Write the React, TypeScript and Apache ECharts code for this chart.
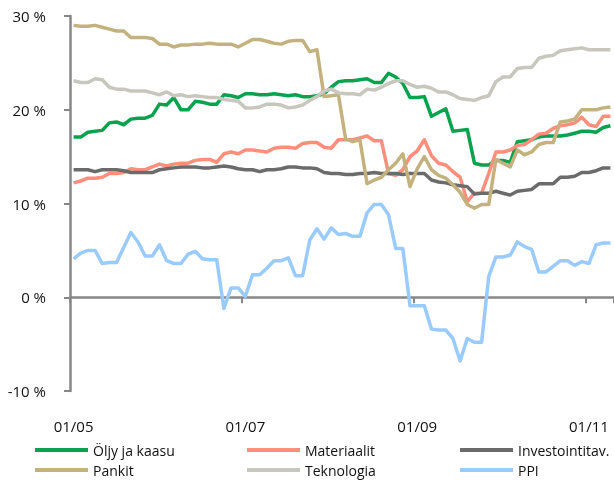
import React, { useEffect, useRef } from 'react';
import * as echarts from 'echarts';

// Monthly categories Jan 2005 .. Apr 2011 (label format MM/YY)
const MONTH_COUNT = 76;
const months: string[] = [];
for (let i = 0; i < MONTH_COUNT; i++) {
  const m = (i % 12) + 1;
  const y = 5 + Math.floor(i / 12);
  months.push(`${String(m).padStart(2, '0')}/${String(y).padStart(2, '0')}`);
}

const seriesNames = ['Öljy ja kaasu', 'Materiaalit', 'Investointitav.', 'Pankit', 'Teknologia', 'PPI'];
const seriesColors = ['#0AA24E', '#FF8E7A', '#6B6B6B', '#C4B27E', '#C8C7BD', '#99CBFF'];

const oljyJaKaasu = [
  17.1, 17.1, 17.6, 17.7, 17.8, 18.6, 18.7, 18.4, 19.0, 19.1, 19.1, 19.4, 20.6, 20.5, 21.3, 20.0, 20.0, 20.9, 20.8, 20.6,
  20.6, 21.6, 21.5, 21.3, 21.7, 21.7, 21.6, 21.6, 21.7, 21.6, 21.5, 21.6, 21.4, 21.4, 21.5,
  21.7, 22.4, 23.0, 23.1, 23.1, 23.2, 23.3, 22.9, 22.9, 23.9, 23.5, 22.8, 21.3, 21.3, 21.4, 19.3, 19.7, 20.1, 17.7, 17.8,
  17.9, 14.3, 14.1, 14.1, 14.6, 14.6, 14.4, 16.6, 16.7, 16.8, 17.1, 17.2, 17.2, 17.2, 17.3, 17.5, 17.7, 17.7, 17.6, 18.1,
  18.3,
];
const materiaalit = [
  12.2, 12.4, 12.7, 12.7, 12.8, 13.2, 13.2, 13.3, 13.7, 13.6, 13.6, 13.9, 14.2, 14.0, 14.2, 14.3, 14.3, 14.6, 14.7, 14.7,
  14.4, 15.3, 15.5, 15.3, 15.7, 15.7, 15.6, 15.5, 15.9, 16.0, 16.0, 15.9, 16.4, 16.5, 16.5,
  16.0, 15.9, 16.8, 16.8, 16.8, 17.0, 17.2, 16.7, 16.7, 13.2, 13.0, 13.6, 15.0, 15.6, 16.8, 15.1, 14.3, 14.1, 13.4, 12.8,
  10.2, 11.1, 11.1, 13.2, 15.5, 15.5, 15.7, 16.2, 16.3, 16.8, 17.4, 17.5, 18.0, 18.3, 18.4, 18.6, 19.2, 18.4, 18.2, 19.3,
  19.3,
];
const investointitav = [
  13.6, 13.6, 13.6, 13.4, 13.6, 13.6, 13.6, 13.5, 13.3, 13.3, 13.3, 13.3, 13.6, 13.7, 13.8, 13.9, 13.9, 13.9, 13.8, 13.8,
  13.9, 14.0, 13.9, 13.7, 13.6, 13.6, 13.4, 13.6, 13.6, 13.7, 13.9, 13.9, 13.8, 13.8, 13.7,
  13.3, 13.2, 13.2, 13.1, 13.1, 13.2, 13.2, 13.3, 13.2, 13.2, 13.2, 13.1, 13.2, 13.2, 13.2, 12.5, 12.3, 12.2, 12.0, 11.9,
  11.8, 11.0, 11.1, 11.1, 11.3, 11.1, 10.9, 11.3, 11.4, 11.5, 12.1, 12.1, 12.1, 12.8, 12.8, 12.9, 13.3, 13.3, 13.5, 13.8,
  13.8,
];
const pankit = [
  29.0, 28.9, 28.9, 29.0, 28.8, 28.6, 28.4, 28.4, 27.7, 27.7, 27.7, 27.6, 27.0, 27.0, 26.7, 26.9, 26.9, 27.0, 27.0, 27.1,
  27.0, 27.0, 27.0, 26.7, 27.1, 27.5, 27.5, 27.3, 27.1, 27.0, 27.3, 27.4, 27.4, 26.2, 26.4,
  21.4, 21.5, 21.6, 16.9, 16.6, 16.8, 12.1, 12.5, 12.8, 13.6, 14.3, 15.3, 11.8, 13.7, 15.0, 13.6, 13.0, 12.7, 12.0, 11.2,
  9.9, 9.5, 9.9, 9.9, 14.7, 14.3, 13.9, 15.7, 15.2, 15.5, 16.3, 16.5, 16.5, 18.7, 18.8, 19.0, 20.0, 20.0, 20.0, 20.2,
  20.3,
];
const teknologia = [
  23.1, 22.9, 22.9, 23.3, 23.2, 22.4, 22.2, 22.2, 22.0, 22.0, 22.0, 21.8, 21.6, 21.9, 21.5, 21.6, 21.4, 21.5, 21.4, 21.3,
  21.3, 21.1, 21.0, 20.9, 20.2, 20.2, 20.3, 20.6, 20.6, 20.5, 20.2, 20.3, 20.5, 21.0, 21.4,
  22.0, 22.2, 21.8, 21.7, 21.7, 21.6, 22.2, 22.1, 22.4, 22.8, 23.1, 23.1, 22.7, 22.4, 22.5, 22.3, 21.9, 21.9, 21.6, 21.2,
  21.1, 21.0, 21.3, 21.5, 23.0, 23.5, 23.5, 24.4, 24.5, 24.5, 25.5, 25.7, 25.8, 26.3, 26.4, 26.5, 26.6, 26.4, 26.4, 26.4,
  26.4,
];
const ppi = [
  4.1, 4.7, 5.0, 5.0, 3.6, 3.7, 3.7, 5.3, 6.9, 5.9, 4.4, 4.4, 5.6, 3.9, 3.6, 3.6, 4.6, 4.9, 4.1, 4.0,
  4.0, -1.2, 1.0, 1.0, 0.1, 2.4, 2.4, 3.1, 3.9, 3.9, 4.2, 2.3, 2.3, 6.1, 7.3,
  6.2, 7.4, 6.7, 6.8, 6.5, 6.5, 9.0, 9.9, 9.9, 8.8, 5.2, 5.2, -0.9, -0.9, -0.9, -3.4, -3.5, -3.5, -4.4, -6.8,
  -4.4, -4.8, -4.8, 2.2, 4.3, 4.3, 4.5, 5.9, 5.4, 5.1, 2.7, 2.7, 3.3, 3.9, 3.9, 3.4, 3.8, 3.6, 5.6, 5.8,
  5.8,
];
const seriesValues = [oljyJaKaasu, materiaalit, investointitav, pankit, teknologia, ppi];

const yMin = -10;
const yMax = 30;
const yStep = 10;

const FONT = 'Open Sans';
const AXIS_GRAY = '#878787';

export default function App() {
  const ref = useRef<HTMLDivElement>(null);

  useEffect(() => {
    if (!ref.current) return;
    const chart = echarts.init(ref.current, null, { renderer: 'svg' });

    const legendBase = {
      orient: 'vertical' as const,
      top: 442,
      padding: 0,
      itemWidth: 53,
      itemHeight: 4,
      itemGap: 4,
      icon: 'rect',
      textStyle: { fontFamily: FONT, fontSize: 14, color: '#111', lineHeight: 16 },
    };

    chart.setOption({
      animation: false,
      color: seriesColors,
      textStyle: { fontFamily: FONT },
      grid: { left: 70, top: 16, width: 547, bottom: 90, containLabel: false },
      legend: [
        { ...legendBase, left: 35, data: [seriesNames[0], seriesNames[3]] },
        { ...legendBase, left: 247, data: [seriesNames[1], seriesNames[4]] },
        { ...legendBase, left: 460, data: [seriesNames[2], seriesNames[5]] },
      ],
      xAxis: [
        {
          type: 'category',
          data: months,
          boundaryGap: true,
          position: 'bottom',
          axisLine: { show: true, onZero: true, lineStyle: { color: AXIS_GRAY, width: 2.5 } },
          axisTick: { show: true, interval: 23, length: 6, inside: false, lineStyle: { color: AXIS_GRAY, width: 2 } },
          axisLabel: { show: false },
          splitLine: { show: false },
        },
        {
          type: 'category',
          data: months,
          boundaryGap: true,
          position: 'bottom',
          axisLine: { show: false, onZero: false },
          axisTick: { show: false },
          axisLabel: { show: true, interval: 23, margin: 27, fontFamily: FONT, fontSize: 15, color: '#111' },
          splitLine: { show: false },
        },
      ],
      yAxis: {
        type: 'value',
        min: yMin,
        max: yMax,
        interval: yStep,
        axisLine: { show: true, lineStyle: { color: AXIS_GRAY, width: 2.5 } },
        axisTick: { show: true, length: 6, lineStyle: { color: AXIS_GRAY, width: 2 } },
        axisLabel: { formatter: '{value} %', margin: 24, fontFamily: FONT, fontSize: 15, color: '#111' },
        splitLine: { show: false },
      },
      series: seriesNames.map((name, k) => ({
        name,
        type: 'line',
        xAxisIndex: 0,
        data: seriesValues[k],
        symbol: 'none',
        showSymbol: false,
        lineStyle: { width: 3.5, color: seriesColors[k], join: 'round' },
        itemStyle: { color: seriesColors[k] },
      })),
    });

    return () => chart.dispose();
  }, []);

  return <div ref={ref} style={{ position: 'fixed', left: 0, top: 0, width: 614, height: 481 }} />;
}
